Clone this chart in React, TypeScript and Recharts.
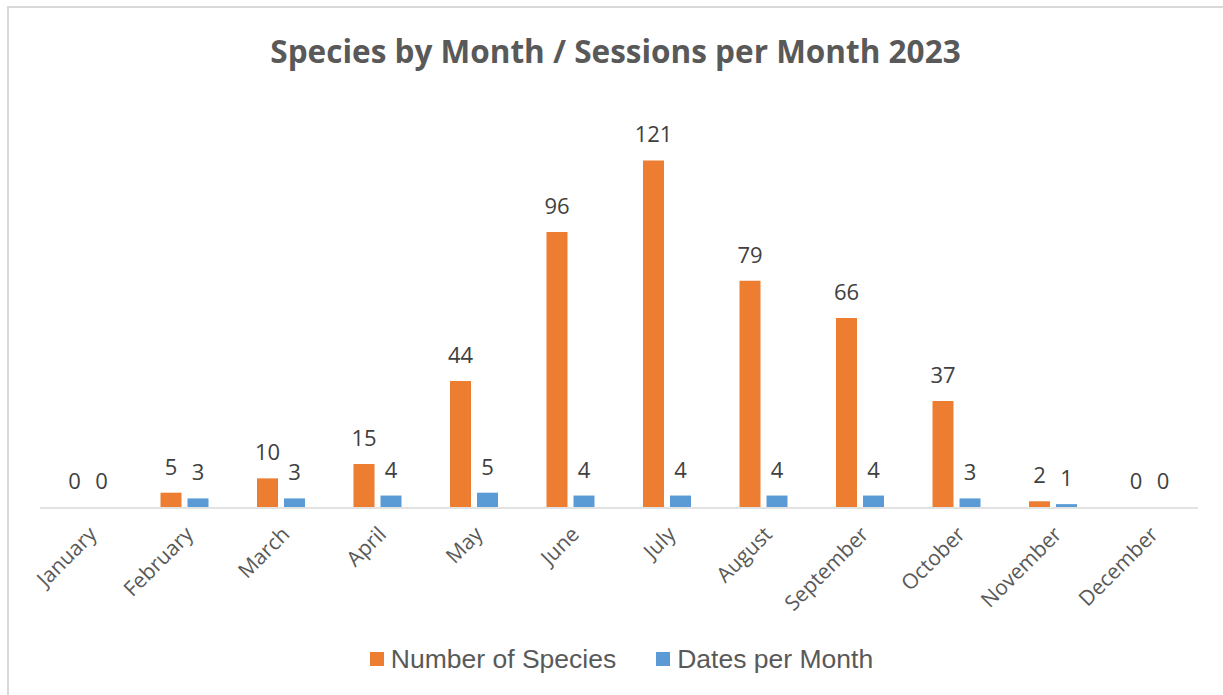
import React from "react";
import { BarChart, Bar, XAxis, YAxis, LabelList } from "recharts";

// Monthly counts for 2023
const months = [
  "January", "February", "March", "April", "May", "June",
  "July", "August", "September", "October", "November", "December",
];
const speciesCounts = [0, 5, 10, 15, 44, 96, 121, 79, 66, 37, 2, 0];
const datesPerMonth = [0, 3, 3, 4, 5, 4, 4, 4, 4, 3, 1, 0];
const boundaryTicks = [0, 1, 2, 3, 4, 5, 6, 7, 8, 9, 10, 11, 12];

const SERIES_SPECIES = "Number of Species";
const SERIES_DATES = "Dates per Month";

const data = months.map((m, i) => ({
  month: m,
  species: speciesCounts[i],
  dates: datesPerMonth[i],
}));

const ORANGE = "#ED7D31";
const BLUE = "#5B9BD5";
const TEXT = "#595959";
const LABEL = "#404040";
const AXIS = "#D9D9D9";

const W = 1223;
const H = 695;

const legendItems = [
  { name: SERIES_SPECIES, color: ORANGE },
  { name: SERIES_DATES, color: BLUE },
];

const MonthTick = (props: any) => {
  const { x, y, payload } = props;
  const ax = x + 4;
  const ay = y + 14;
  return (
    <text
      x={ax}
      y={ay}
      transform={`rotate(-45, ${ax}, ${ay})`}
      textAnchor="end"
      dominantBaseline="central"
      fontFamily="'Open Sans', sans-serif"
      fontSize={21}
      fill={TEXT}
    >
      {payload.value}
    </text>
  );
};

const ValueLabel = (props: any) => {
  const { x, y, width, value } = props;
  return (
    <text
      x={x + width / 2}
      y={y - 18}
      textAnchor="middle"
      fontFamily="'Open Sans', sans-serif"
      fontSize={22}
      fill={LABEL}
    >
      {value}
    </text>
  );
};

export default function App() {
  return (
    <div
      style={{
        position: "absolute",
        left: 0,
        top: 0,
        width: W,
        height: H,
        background: "#fff",
        overflow: "hidden",
      }}
    >
      <div
        style={{
          position: "absolute",
          left: 7,
          top: 6,
          width: W,
          height: H,
          borderLeft: `2px solid ${AXIS}`,
          borderTop: `2px solid ${AXIS}`,
          boxSizing: "border-box",
        }}
      />
      <div
        style={{
          position: "absolute",
          left: 4,
          top: 31,
          width: W,
          textAlign: "center",
          fontFamily: "'Open Sans', sans-serif",
          fontWeight: 700,
          fontSize: 31.5,
          color: TEXT,
          lineHeight: "40px",
        }}
      >
        Species by Month / Sessions per Month 2023
      </div>
      <BarChart
        width={W}
        height={H}
        data={data}
        margin={{ top: 106, right: 25, bottom: 186, left: 40 }}
        barCategoryGap={24}
        barGap={6}
        style={{ position: "absolute", left: 0, top: 0 }}
      >
        <XAxis
          xAxisId="cat"
          dataKey="month"
          type="category"
          interval={0}
          axisLine={{ stroke: AXIS, strokeWidth: 1.5 }}
          tickLine={false}
          tick={<MonthTick />}
          height={1}
        />
        <XAxis
          xAxisId="bounds"
          type="number"
          domain={[0, 12]}
          ticks={boundaryTicks}
          allowDataOverflow
          axisLine={false}
          tick={false}
          tickLine={{ stroke: AXIS, strokeWidth: 1.5 }}
          tickSize={7}
          height={1}
        />
        <YAxis hide domain={[0, 140]} />
        <Bar
          xAxisId="cat"
          dataKey="species"
          name={SERIES_SPECIES}
          fill={ORANGE}
          minPointSize={0.01}
          isAnimationActive={false}
        >
          <LabelList dataKey="species" content={<ValueLabel />} />
        </Bar>
        <Bar
          xAxisId="cat"
          dataKey="dates"
          name={SERIES_DATES}
          fill={BLUE}
          minPointSize={0.01}
          isAnimationActive={false}
        >
          <LabelList dataKey="dates" content={<ValueLabel />} />
        </Bar>
      </BarChart>
      <div
        style={{
          position: "absolute",
          left: 10,
          top: 642,
          width: W,
          display: "flex",
          justifyContent: "center",
          alignItems: "center",
          gap: 40,
          fontFamily: "'Liberation Sans', Arial, sans-serif",
          fontSize: 26.5,
          lineHeight: "34px",
          color: TEXT,
        }}
      >
        {legendItems.map((it) => (
          <div key={it.name} style={{ display: "flex", alignItems: "center" }}>
            <span
              style={{
                display: "inline-block",
                width: 14,
                height: 14,
                background: it.color,
                marginRight: 7,
              }}
            />
            <span>{it.name}</span>
          </div>
        ))}
      </div>
    </div>
  );
}
